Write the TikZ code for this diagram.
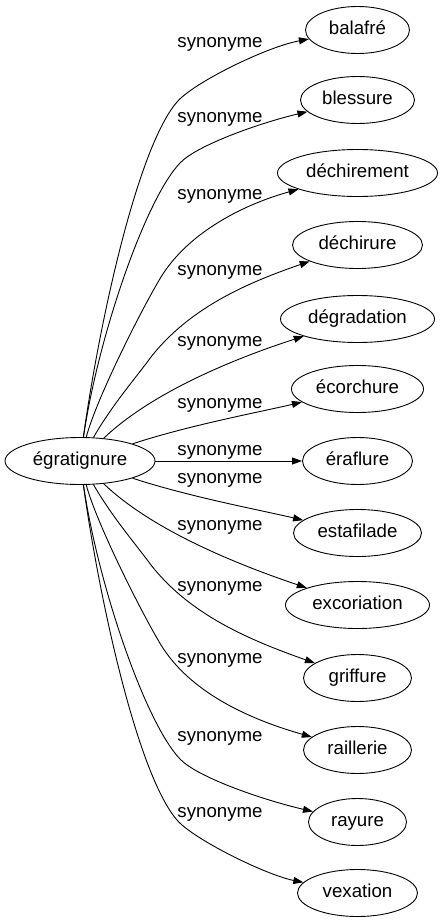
\documentclass[tikz,border=0pt]{standalone}
\usepackage{fontspec}
\setmainfont{Liberation Sans}
\usetikzlibrary{arrows.meta,shapes.geometric}
\begin{document}
\begin{tikzpicture}[x=1pt,y=-1pt,
  every node/.style={font=\fontsize{18.67}{22}\selectfont, text=black},
  word/.style={draw=black, line width=0.9pt, ellipse, inner sep=0pt, minimum height=47pt, text height=13.4pt, text depth=3.9pt},
  lab/.style={anchor=base, inner sep=0pt},
  syn/.style={draw=black, line width=0.9pt, -{Triangle[length=10pt,width=7pt]}}]
\fill[white] (0,0) rectangle (442,923);
\useasboundingbox (0,0) rectangle (442,923);

\node[word, minimum width=150pt] (c) at (80,461) {égratignure};
\node[word, minimum width=104pt] (t1) at (357.5,30) {balafré};
\node[word, minimum width=114pt] (t2) at (357.5,100) {blessure};
\node[word, minimum width=160pt] (t3) at (357.5,173) {déchirement};
\node[word, minimum width=130pt] (t4) at (357.5,245) {déchirure};
\node[word, minimum width=154pt] (t5) at (357.5,319) {dégradation};
\node[word, minimum width=132pt] (t6) at (357.5,389) {écorchure};
\node[word, minimum width=110pt] (t7) at (357.5,461) {éraflure};
\node[word, minimum width=128pt] (t8) at (357.5,533) {estafilade};
\node[word, minimum width=144pt] (t9) at (357.5,605) {excoriation};
\node[word, minimum width=108pt] (t10) at (357.5,678) {griffure};
\node[word, minimum width=108pt] (t11) at (357.5,750) {raillerie};
\node[word, minimum width=98pt] (t12) at (357.5,822) {rayure};
\node[word, minimum width=120pt] (t13) at (357.5,893) {vexation};

\node[lab] (l1) at (220,48) {synonyme};
\node[lab] (l2) at (220,123) {synonyme};
\node[lab] (l3) at (220,199) {synonyme};
\node[lab] (l4) at (220,275) {synonyme};
\node[lab] (l5) at (220,346) {synonyme};
\node[lab] (l6) at (220,408) {synonyme};
\node[lab] (l7) at (220,455) {synonyme};
\node[lab] (l8) at (220,483) {synonyme};
\node[lab] (l9) at (220,530) {synonyme};
\node[lab] (l10) at (220,591) {synonyme};
\node[lab] (l11) at (220,663) {synonyme};
\node[lab] (l12) at (220,741) {synonyme};
\node[lab] (l13) at (220,817) {synonyme};

\coordinate (k1) at (177,102);
\coordinate (k2) at (180,163);
\coordinate (k3) at (161,277);
\coordinate (k4) at (151,357);
\coordinate (k10) at (151,565);
\coordinate (k11) at (161,645);
\coordinate (k12) at (180,759);
\coordinate (k13) at (177,820);

\draw[syn] (c) .. controls (100,318) and (138,147) .. (k1) .. controls (193,83) and (266,47) .. (t1);
\draw[syn] (c) .. controls (98,337) and (145.5,199) .. (k2) .. controls (197,145) and (261,122.6) .. (t2);
\draw[syn] (c) .. controls (96,400) and (140,312) .. (k3) .. controls (190,230) and (247.75,203.25) .. (t3);
\draw[syn] (c) .. controls (112,405) and (138,375) .. (k4) .. controls (188,310) and (242,284.5) .. (t4);
\draw[syn] (c) .. controls (152,392) and (236.5,357.8) .. (t5);
\draw[syn] (c) .. controls (190,425) and (260,412) .. (t6);
\draw[syn] (c) -- (t7);
\draw[syn] (c) .. controls (190,497) and (260,510) .. (t8);
\draw[syn] (c) .. controls (152,530) and (236.5,564.2) .. (t9);
\draw[syn] (c) .. controls (112,517) and (138,547) .. (k10) .. controls (188,612) and (242,637.5) .. (t10);
\draw[syn] (c) .. controls (96,522) and (140,610) .. (k11) .. controls (190,692) and (247.75,718.75) .. (t11);
\draw[syn] (c) .. controls (98,585) and (145.5,723) .. (k12) .. controls (197,777) and (261,799.4) .. (t12);
\draw[syn] (c) .. controls (100,604) and (138,775) .. (k13) .. controls (193,839) and (266,875) .. (t13);
\end{tikzpicture}
\end{document}
